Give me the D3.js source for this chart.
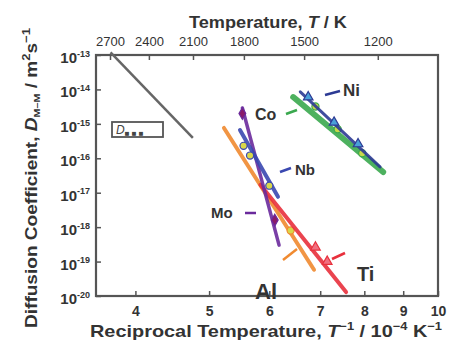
<!DOCTYPE html>
<html lang="en">
<head>
<meta charset="UTF-8">
<title>Diffusion coefficients</title>
<script src="https://d3js.org/d3.v7.min.js"></script>
<style>
  body { margin: 0; background: #fff; }
  svg { font-family: "Liberation Sans", Arial, sans-serif; }
  .axis text { fill: #333; }
  .axis path, .axis line { stroke: #555; stroke-width: 1.5; }
</style>
</head>
<body>
<div id="chart"></div>
<script>
// reciprocal temperature (10^-4 K^-1) / diffusion coefficient (m^2/s) pairs
const bottomTicks = [4, 5, 6, 7, 8, 9, 10];
const topTicks = [2700, 2400, 2100, 1800, 1500, 1200];
const yTicks = [-13, -14, -15, -16, -17, -18, -19, -20];

const refLine = [[3.71, 1.2e-13], [4.76, 3.9e-16]];

const niLine = [[6.59, 8.5e-15], [8.39, 5.6e-17]];
const niPoints = [[6.75, 6.0e-15], [7.3, 1.1e-15], [7.85, 2.6e-16]];
const coLine = [[6.45, 6.0e-15], [8.47, 4.0e-17]];
const coPoints = [[6.9, 3.2e-15], [7.38, 7.0e-16], [7.95, 1.4e-16]];

const nbLine = [[5.49, 6.6e-16], [6.16, 7.6e-18]];
const nbPoints = [[5.55, 2.3e-16], [5.66, 1.2e-16], [6.0, 1.6e-17]];
const moLine = [[5.53, 2.9e-15], [6.18, 3.0e-19]];
const moPoints = [[5.53, 2.0e-15], [6.1, 1.6e-18]];
const alLine = [[5.23, 7.6e-16], [6.87, 5.8e-20]];
const alPoints = [[6.4, 8.0e-19]];
const tiLine = [[5.84, 1.7e-17], [7.57, 1.3e-20]];
const tiPoints = [[6.9, 2.6e-19], [7.15, 1.0e-19]];

const width = 451, height = 347;
const margin = { top: 55, right: 13, bottom: 51, left: 96 };

const svg = d3.select("#chart").append("svg")
  .attr("width", width).attr("height", height);

const x = d3.scaleLog().domain([3.55, 10]).range([margin.left, width - margin.right]);
const xTop = d3.scaleLog().domain([1e4 / 3.55, 1000]).range([margin.left, width - margin.right]);
const y = d3.scaleLog().domain([1e-13, 1e-20]).range([margin.top, height - margin.bottom]);

// frame
svg.append("rect")
  .attr("x", margin.left).attr("y", margin.top)
  .attr("width", x.range()[1] - margin.left)
  .attr("height", y.range()[1] - margin.top)
  .attr("fill", "none").attr("stroke", "#555").attr("stroke-width", 2.2);

// axes
const bottomAxis = svg.append("g").attr("class", "axis")
  .attr("transform", `translate(0,${y.range()[1]})`)
  .call(d3.axisBottom(x).tickValues(bottomTicks).tickSizeInner(-5).tickSizeOuter(0).tickPadding(10).tickFormat(d3.format("d")));
bottomAxis.select(".domain").remove();
bottomAxis.selectAll("text").attr("font-size", 14).attr("font-weight", "bold");

const topAxis = svg.append("g").attr("class", "axis")
  .attr("transform", `translate(0,${margin.top})`)
  .call(d3.axisTop(xTop).tickValues(topTicks).tickSizeInner(-5).tickSizeOuter(0).tickPadding(9).tickFormat(d3.format("d")));
topAxis.select(".domain").remove();
topAxis.selectAll("text").attr("font-size", 13);

const leftAxis = svg.append("g").attr("class", "axis")
  .attr("transform", `translate(${margin.left},0)`)
  .call(d3.axisLeft(y).tickValues(yTicks.map(e => Math.pow(10, e))).tickSizeInner(-5).tickSizeOuter(0).tickPadding(6).tickFormat(""));
leftAxis.select(".domain").remove();
leftAxis.selectAll(".tick").each(function (d, i) {
  const t = d3.select(this).select("text")
    .attr("font-size", 15).attr("font-weight", "bold").attr("dy", "0.5em");
  t.append("tspan").text("10");
  t.append("tspan").attr("font-size", 9).attr("dy", "-0.7em").text(yTicks[i]);
});

// axis titles
svg.append("text")
  .attr("x", 268).attr("y", 28).attr("text-anchor", "middle")
  .attr("font-size", 17).attr("font-weight", "bold").attr("fill", "#333")
  .attr("textLength", 158).attr("lengthAdjust", "spacingAndGlyphs")
  .html('Temperature, <tspan font-style="italic">T</tspan> / K');

svg.append("text")
  .attr("x", 266).attr("y", 337).attr("text-anchor", "middle")
  .attr("font-size", 17).attr("font-weight", "bold").attr("fill", "#333")
  .attr("textLength", 352).attr("lengthAdjust", "spacingAndGlyphs")
  .html('Reciprocal Temperature, <tspan font-style="italic">T</tspan><tspan font-size="11" dy="-7">−1</tspan><tspan dy="7"> / 10</tspan><tspan font-size="11" dy="-7">−4</tspan><tspan dy="7"> K</tspan><tspan font-size="11" dy="-7">−1</tspan>');

svg.append("text")
  .attr("transform", "translate(37,178) rotate(-90)").attr("text-anchor", "middle")
  .attr("font-size", 16).attr("font-weight", "bold").attr("fill", "#333")
  .attr("textLength", 300).attr("lengthAdjust", "spacingAndGlyphs")
  .html('Diffusion Coefficient, <tspan font-style="italic">D</tspan><tspan font-size="9" dy="3">M–M</tspan><tspan dy="-3"> / m</tspan><tspan font-size="11" dy="-7">2</tspan><tspan dy="7">s</tspan><tspan font-size="11" dy="-7">−1</tspan>');

const line = d3.line().x(d => x(d[0])).y(d => y(d[1]));

// reference line and inset box
svg.append("path").datum(refLine).attr("d", line)
  .attr("stroke", "#666").attr("stroke-width", 2.5).attr("fill", "none");
svg.append("rect").attr("x", 112).attr("y", 122).attr("width", 51).attr("height", 15)
  .attr("fill", "#fff").attr("stroke", "#555").attr("stroke-width", 1.8);
svg.append("text").attr("x", 116).attr("y", 134).attr("font-size", 12).attr("fill", "#444")
  .html('<tspan font-style="italic">D</tspan><tspan font-size="8" dy="2" font-weight="bold">■ ■ ■</tspan>');

function series(lineData, points, color, width, marker, markerFill) {
  svg.append("path").datum(lineData).attr("d", line)
    .attr("stroke", color).attr("stroke-width", width).attr("fill", "none")
    .attr("stroke-linecap", "round").attr("opacity", 0.9);
  const sym = d3.symbol().type(marker).size(40);
  svg.append("g").selectAll("path").data(points).join("path")
    .attr("transform", d => `translate(${x(d[0])},${y(d[1])})`)
    .attr("d", sym).attr("fill", markerFill).attr("stroke", color).attr("stroke-width", 1.2);
}

series(coLine, coPoints, "#3aa84e", 6, d3.symbolCircle, "#c8d84a");
series(niLine, niPoints, "#2c3a94", 3, d3.symbolTriangle, "#4aa0d8");
series(alLine, alPoints, "#f08a30", 4, d3.symbolCircle, "#d8d84a");
series(tiLine, tiPoints, "#e8303c", 4, d3.symbolTriangle, "#f07080");
series(moLine, moPoints, "#6a2a9c", 3.5, d3.symbolDiamond, "#8a1a6a");
series(nbLine, nbPoints, "#3a48b0", 4, d3.symbolCircle, "#d8d84a");

// element labels with leaders
const labels = [
  { t: "Ni", x: 343, y: 96, s: 17, c: "#2c3a94", l: [325, 95, 340, 91] },
  { t: "Co", x: 255, y: 120, s: 16, c: "#3aa84e", l: [286, 114, 297, 110] },
  { t: "Nb", x: 295, y: 175, s: 15, c: "#3a48b0", l: [280, 172, 291, 168] },
  { t: "Mo", x: 211, y: 218, s: 15, c: "#6a2a9c", l: [245, 213, 256, 213] },
  { t: "Al", x: 255, y: 299, s: 22, c: "#f08a30", l: [283, 260, 297, 249] },
  { t: "Ti", x: 357, y: 281, s: 20, c: "#e8303c", l: [332, 259, 345, 253] }
];
labels.forEach(d => {
  svg.append("line").attr("x1", d.l[0]).attr("y1", d.l[1]).attr("x2", d.l[2]).attr("y2", d.l[3])
    .attr("stroke", d.c).attr("stroke-width", 2.5);
  svg.append("text").attr("x", d.x).attr("y", d.y).attr("font-size", d.s)
    .attr("font-weight", "bold").attr("fill", "#333").text(d.t);
});
</script>
</body>
</html>
